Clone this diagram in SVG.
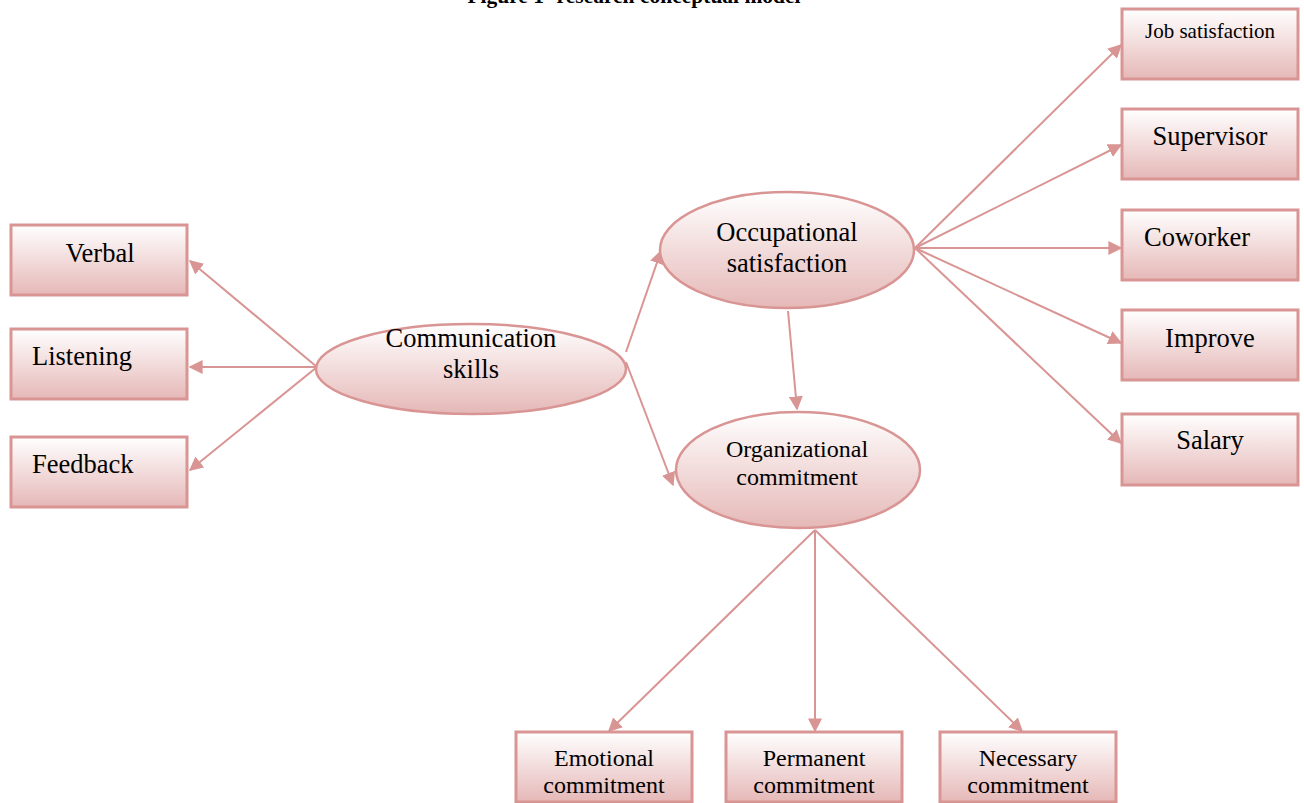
<svg xmlns="http://www.w3.org/2000/svg" width="1304" height="803" viewBox="0 0 1304 803">
<defs>
<linearGradient id="g" x1="0" y1="0" x2="0" y2="1">
<stop offset="0" stop-color="#ffffff"/>
<stop offset="1" stop-color="#e5b8b7"/>
</linearGradient>
<marker id="b" viewBox="0 0 10 10" refX="9" refY="5" markerWidth="14" markerHeight="14" markerUnits="userSpaceOnUse" orient="auto">
<path d="M0,0 L10,5 L0,10 z" fill="#d99594"/>
</marker>
<style>
.box{fill:url(#g);stroke:#d99594;stroke-width:3}
.ell{fill:url(#g);stroke:#d99594;stroke-width:2.5}
.c{fill:none;stroke:#d99594;stroke-width:2;marker-end:url(#b)}
text{font-family:"Liberation Serif","Times New Roman",serif;fill:#000}
.t22{font-size:26.5px}
.t20{font-size:24px}
.t17{font-size:21px}
.m{text-anchor:middle}
</style>
</defs>
<rect width="1304" height="803" fill="#fff"/>
<text x="634" y="3" class="m" font-size="21.5" font-weight="bold">Figure 1- research conceptual model</text>

<g id="connectors">
<line class="c" x1="317" y1="367" x2="190" y2="261"/>
<line class="c" x1="317" y1="367" x2="190" y2="367"/>
<line class="c" x1="317" y1="367" x2="190" y2="470"/>
<line class="c" x1="626" y1="352" x2="661" y2="251"/>
<line class="c" x1="626" y1="362" x2="673" y2="485"/>
<line class="c" x1="788" y1="311" x2="797" y2="409"/>
<line class="c" x1="915" y1="248" x2="1121" y2="45"/>
<line class="c" x1="915" y1="248" x2="1121" y2="145"/>
<line class="c" x1="915" y1="248" x2="1121" y2="248"/>
<line class="c" x1="915" y1="248" x2="1121" y2="343"/>
<line class="c" x1="915" y1="248" x2="1121" y2="443"/>
<line class="c" x1="815" y1="530" x2="609" y2="731"/>
<line class="c" x1="815" y1="530" x2="815" y2="731"/>
<line class="c" x1="815" y1="530" x2="1022" y2="731"/>
</g>

<g id="verbal"><rect class="box" x="11" y="225" width="176" height="70"/><text class="t22 m" x="100" y="262">Verbal</text></g>
<g id="listening"><rect class="box" x="11" y="329" width="176" height="70"/><text class="t22" x="32" y="365">Listening</text></g>
<g id="feedback"><rect class="box" x="11" y="437" width="176" height="70"/><text class="t22" x="32" y="473">Feedback</text></g>

<g id="communication"><ellipse class="ell" cx="471" cy="369" rx="155" ry="45"/><text class="t22 m" x="471" y="347">Communication</text><text class="t22 m" x="471" y="378">skills</text></g>
<g id="occupational"><ellipse class="ell" cx="787" cy="250" rx="127" ry="58"/><text class="t22 m" x="787" y="241">Occupational</text><text class="t22 m" x="787" y="272">satisfaction</text></g>
<g id="organizational"><ellipse class="ell" cx="798" cy="470" rx="122" ry="58"/><text class="t20 m" x="797" y="457">Organizational</text><text class="t20 m" x="797" y="485">commitment</text></g>

<g id="job"><rect class="box" x="1122" y="9" width="176" height="70"/><text class="t17 m" x="1210" y="38">Job satisfaction</text></g>
<g id="supervisor"><rect class="box" x="1122" y="109" width="176" height="70"/><text class="t22 m" x="1210" y="145">Supervisor</text></g>
<g id="coworker"><rect class="box" x="1122" y="210" width="176" height="70"/><text class="t22" x="1144" y="246">Coworker</text></g>
<g id="improve"><rect class="box" x="1122" y="310" width="176" height="70"/><text class="t22 m" x="1210" y="347">Improve</text></g>
<g id="salary"><rect class="box" x="1122" y="414" width="176" height="71"/><text class="t22 m" x="1210" y="449">Salary</text></g>

<g id="emotional"><rect class="box" x="516" y="732" width="176" height="70"/><text class="t20 m" x="604" y="766">Emotional</text><text class="t20 m" x="604" y="793">commitment</text></g>
<g id="permanent"><rect class="box" x="726" y="732" width="176" height="70"/><text class="t20 m" x="814" y="766">Permanent</text><text class="t20 m" x="814" y="793">commitment</text></g>
<g id="necessary"><rect class="box" x="940" y="732" width="176" height="70"/><text class="t20 m" x="1028" y="766">Necessary</text><text class="t20 m" x="1028" y="793">commitment</text></g>
</svg>
